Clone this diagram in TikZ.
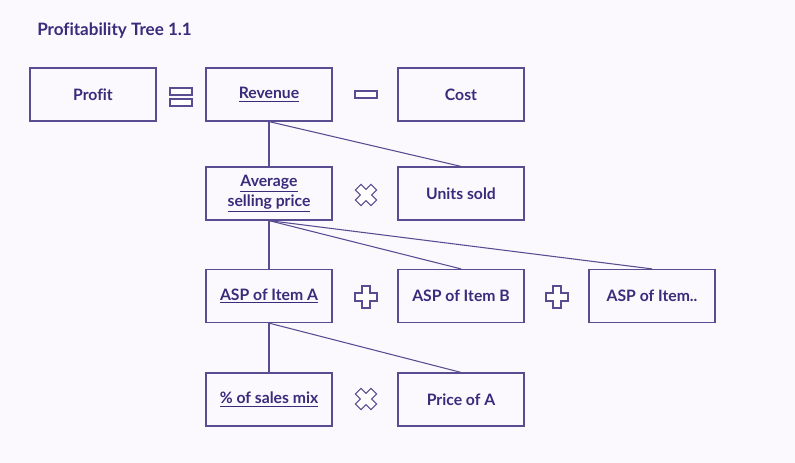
\documentclass[tikz,border=0pt]{standalone}
\usepackage{fontspec}
\setmainfont{Lato}[Ligatures={NoCommon}]
\definecolor{bgc}{HTML}{FBF9FE}
\definecolor{txt}{HTML}{3A2C7B}
\definecolor{ln}{HTML}{5A4C90}
\begin{document}
\begin{tikzpicture}[x=0.75pt,y=-0.75pt,
  box/.style={draw=ln,line width=0.9pt,minimum width=126*0.75pt,minimum height=53*0.75pt,inner sep=0pt,text=txt,font=\bfseries\fontsize{11.8}{14.5}\selectfont,align=center},
  conn/.style={draw=ln,line width=0.8pt},
  sym/.style={draw=ln,line width=0.8pt,fill=white}]
\fill[bgc] (0,0) rectangle (795,463);
\useasboundingbox (0,0) rectangle (795,463);
\node[anchor=west,text=txt,font=\fontsize{12.8}{15}\selectfont\bfseries,inner sep=0pt] (title) at (37,31) {Profitability Tree 1.1};
\node[box] (profit) at (93,94.5) {Profit};
\node[box] (rev) at (269,94.5) {\underline{Revenue}};
\node[box] (cost) at (461,94.5) {Cost};
\node[box] (asp) at (269,193.5) {\underline{Average}\\\underline{selling price}};
\node[box] (units) at (461,193.5) {Units sold};
\node[box] (aspa) at (269,296) {\underline{ASP of Item A}};
\node[box] (aspb) at (461,296) {ASP of Item B};
\node[box] (aspx) at (652,296) {ASP of Item..};
\node[box] (mix) at (269,399.5) {\underline{\% of sales mix}};
\node[box] (pricea) at (461,399.5) {Price of A};
% connectors
\draw[conn] (rev.south) -- (asp.north);
\draw[conn] (rev.south) -- (units.north);
\draw[conn] (asp.south) -- (aspa.north);
\draw[conn] (asp.south) -- (aspb.north);
\draw[conn] (asp.south) -- (aspx.north);
\draw[conn] (aspa.south) -- (mix.north);
\draw[conn] (aspa.south) -- (pricea.north);
% equals
\draw[sym] (170,88) rectangle (192,95);
\draw[sym] (170,99) rectangle (192,106);
% minus
\draw[sym] (355,91) rectangle (377,98);
% plus / cross shapes
\foreach \cx/\cy/\r in {366/195/45, 366/399/45, 366/297/0, 557/297/0}{
  \draw[sym,rotate around={\r:(\cx,\cy)}]
    (\cx-4,\cy-11) -- (\cx+4,\cy-11) -- (\cx+4,\cy-4) -- (\cx+11,\cy-4) -- (\cx+11,\cy+4)
    -- (\cx+4,\cy+4) -- (\cx+4,\cy+11) -- (\cx-4,\cy+11) -- (\cx-4,\cy+4) -- (\cx-11,\cy+4)
    -- (\cx-11,\cy-4) -- (\cx-4,\cy-4) -- cycle;
}
\end{tikzpicture}
\end{document}
